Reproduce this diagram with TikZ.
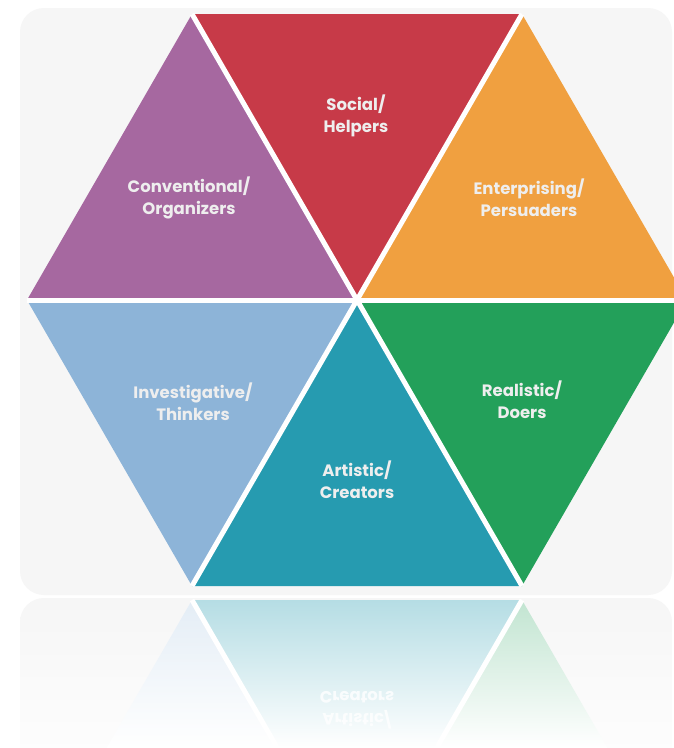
\documentclass[tikz,border=0pt]{standalone}
\usepackage{fontspec}
\setmainfont{Poppins}
\definecolor{cpurple}{RGB}{166,104,160}
\definecolor{cred}{RGB}{199,58,72}
\definecolor{corange}{RGB}{240,160,64}
\definecolor{cblue}{RGB}{141,180,216}
\definecolor{cteal}{RGB}{38,155,176}
\definecolor{cgreen}{RGB}{35,160,90}
\definecolor{card}{RGB}{246,246,246}
\definecolor{txt}{RGB}{238,238,238}
\begin{document}
\begin{tikzpicture}[x=1pt,y=-1pt,
  lbl/.style={text=txt, font=\fontsize{16.5}{22}\selectfont\bfseries, align=center, inner sep=0pt},
  gapline/.style={draw=white, line width=5pt}]
\useasboundingbox (0,0) rectangle (674,748);
\clip (0,0) rectangle (674,748);
\fill[white] (0,0) rectangle (674,748);
% card and its reflection
\fill[card, rounded corners=24pt] (20,8) rectangle (672,595);
\shade[top color=card, bottom color=white, rounded corners=24pt] (20,598) rectangle (672,800);
% hexagon vertices
\coordinate (C) at (357,300);
\coordinate (TL) at (192,14);
\coordinate (TR) at (522,14);
\coordinate (L) at (27,300);
\coordinate (R) at (687,300);
\coordinate (BL) at (192,586);
\coordinate (BR) at (522,586);
% triangles
\fill[cpurple] (TL) -- (C) -- (L) -- cycle;
\fill[cred] (TL) -- (TR) -- (C) -- cycle;
\fill[corange] (TR) -- (R) -- (C) -- cycle;
\fill[cblue] (L) -- (C) -- (BL) -- cycle;
\fill[cteal] (C) -- (BR) -- (BL) -- cycle;
\fill[cgreen] (C) -- (R) -- (BR) -- cycle;
% gaps
\draw[gapline] (TL) -- (BR);
\draw[gapline] (TR) -- (BL);
\draw[gapline] (L) -- (R);
% reflection
\shade[top color=cteal!34!white, bottom color=white] (192,600) -- (522,600) -- (436.6,748) -- (277.4,748) -- cycle;
\shade[top color=cblue!24!white, bottom color=white] (192,600) -- (277.4,748) -- (106.6,748) -- cycle;
\shade[top color=cgreen!28!white, bottom color=white] (522,600) -- (607.4,748) -- (436.6,748) -- cycle;
\coordinate (RBL) at (192,600);
\coordinate (RBR) at (522,600);
\coordinate (RC) at (357,886);
\draw[gapline] (RBL) -- (RC);
\draw[gapline] (RBR) -- (RC);
% labels
\node[lbl] (social) at (356,116) {Social/\\Helpers};
\node[lbl] (conv) at (189,198) {Conventional/\\Organizers};
\node[lbl] (ent) at (529,198) {Enterprising/\\Persuaders};
\node[lbl] (inv) at (193,402) {Investigative/\\Thinkers};
\node[lbl] (art) at (357,480) {Artistic/\\Creators};
\node[lbl] (real) at (522,400) {Realistic/\\Doers};
\node[lbl, yscale=-1, transform shape, text=white, opacity=0.8] (artr) at (357,710) {Artistic/\\Creators};
\end{tikzpicture}
\end{document}
